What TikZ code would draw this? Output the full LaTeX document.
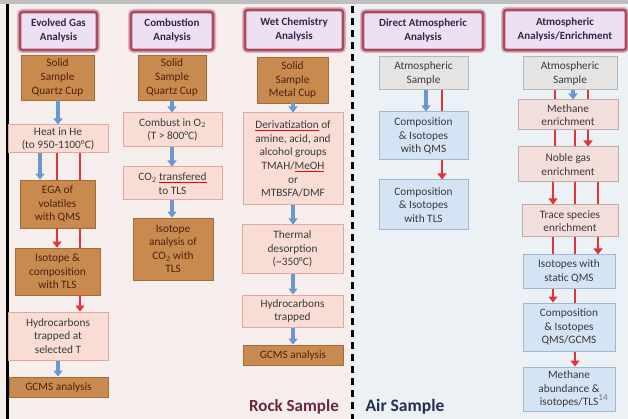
\documentclass[tikz,border=0pt]{standalone}
\usepackage{fontspec}
\setmainfont{Carlito}
\usetikzlibrary{arrows.meta}
\definecolor{bgl}{HTML}{F6EEED}
\definecolor{bgr}{HTML}{ECF1F5}
\definecolor{hdrfill}{HTML}{ECE0F2}
\definecolor{hdrdraw}{HTML}{A94A62}
\definecolor{hdrglow}{HTML}{DDB4BC}
\definecolor{hdrtxt}{HTML}{2E2A4A}
\definecolor{brfill}{HTML}{C88A4E}
\definecolor{brdraw}{HTML}{A56C38}
\definecolor{brtxt}{HTML}{4E220E}
\definecolor{pkfill}{HTML}{F9DDD5}
\definecolor{pkdraw}{HTML}{E0A8A1}
\definecolor{pgfill}{HTML}{F2DEDB}
\definecolor{pgdraw}{HTML}{C4ABAB}
\definecolor{blfill}{HTML}{D4E4F4}
\definecolor{bldraw}{HTML}{9EB8D2}
\definecolor{gyfill}{HTML}{E4E4E4}
\definecolor{gydraw}{HTML}{B5B5B5}
\definecolor{txt}{HTML}{3A3A3A}
\definecolor{arrblue}{HTML}{6B98CB}
\definecolor{arrred}{HTML}{E2323A}
\definecolor{rockc}{HTML}{6A2840}
\definecolor{airc}{HTML}{1F3050}
\newcommand\squig[1]{\textcolor{red}{\underline{\textcolor{txt}{#1}}}}
\newcommand\conn[4]{\draw[#1] (#2.south -| #4,0) -- (#3.north -| #4,0);}
\begin{document}
\begin{tikzpicture}[x=1pt,y=-1pt,
  every node/.style={align=center, inner sep=1pt, font=\fontsize{11.3}{13.6}\selectfont},
  hdr/.style={draw=hdrdraw, fill=hdrfill, line width=2.6pt, rounded corners=2.5pt,
    preaction={draw=hdrglow, line width=6pt, rounded corners=3pt},
    text=hdrtxt, font=\bfseries\fontsize{11}{14}\selectfont},
  brbox/.style={draw=brdraw, fill=brfill, line width=0.8pt, text=brtxt},
  pkbox/.style={draw=pkdraw, fill=pkfill, line width=1pt, text=txt},
  pgbox/.style={draw=pgdraw, fill=pgfill, line width=1pt, text=txt},
  blbox/.style={draw=bldraw, fill=blfill, line width=1pt, text=txt},
  gybox/.style={draw=gydraw, fill=gyfill, line width=1pt, text=txt},
  barr/.style={draw=arrblue, line width=3.5pt, -{Triangle[width=9pt,length=6pt]}},
  rarr/.style={draw=arrred, line width=2.5pt, -{Triangle[width=9pt,length=6pt]}},
  rline/.style={draw=arrred, line width=2.5pt},
  bsz/.style 2 args={minimum width=#1pt, minimum height=#2pt}
]
\useasboundingbox (0,0) rectangle (628,419);
% backgrounds
\fill[bgl] (0,0) rectangle (352,419);
\fill[bgr] (352,0) rectangle (628,419);
\fill[black!25] (0,0) rectangle (628,4);
\fill[black] (6,4) rectangle (9,419);
\draw[line width=3pt, dash pattern=on 7pt off 5pt] (352,6) -- (352,419);

% column 1
\node[hdr, bsz={77}{38}] (h1) at (58.5,31) {Evolved Gas\\Analysis};
\node[brbox, bsz={73}{45}] (s1) at (57.5,77.5) {Solid\\Sample\\Quartz Cup};
\node[pkbox, bsz={100}{28}] (heat) at (58,139) {Heat in He\\(to 950-1100°C)};
\node[brbox, bsz={75}{48}] (ega) at (57.5,204) {EGA of\\volatiles\\with QMS};
\node[brbox, bsz={85}{47}] (iso1) at (57.5,271.5) {Isotope \&\\composition\\with TLS};
\node[pkbox, bsz={100}{48}] (hyd1) at (58,336) {Hydrocarbons\\trapped at\\selected T};
\node[brbox, bsz={99}{20}] (gc1) at (58.5,387) {GCMS analysis};
\conn{barr}{s1}{heat}{58}
\conn{barr}{heat}{ega}{40}
\conn{rline}{heat}{ega}{57}
\conn{rline}{heat}{ega}{80}
\conn{rarr}{ega}{iso1}{57}
\conn{rline}{ega}{iso1}{80}
\conn{rarr}{iso1}{hyd1}{80}
\conn{barr}{hyd1}{gc1}{58}

% column 2
\node[hdr, bsz={82}{38}] (h2) at (172,31) {Combustion\\Analysis};
\node[brbox, bsz={68}{45}] (s2) at (172,77.5) {Solid\\Sample\\Quartz Cup};
\node[pkbox, bsz={99}{34}] (comb) at (172.5,130) {Combust in O$_2$\\(T > 800°C)};
\node[pkbox, bsz={99}{33}] (co2) at (172.5,183.5) {CO$_2$ \squig{transfered}\\to TLS};
\node[brbox, bsz={80}{62}] (iso2) at (173,249) {Isotope\\analysis of\\CO$_2$ with\\TLS};
\conn{barr}{s2}{comb}{172}
\conn{barr}{comb}{co2}{172}
\conn{barr}{co2}{iso2}{172}

% column 3
\node[hdr, bsz={98}{40}] (h3) at (294,30) {Wet Chemistry\\Analysis};
\node[brbox, bsz={71}{46}] (s3) at (292.5,80) {Solid\\Sample\\Metal Cup};
\node[pkbox, bsz={100}{92}] (der) at (293,159) {\squig{Derivatization} of\\amine, acid, and\\alcohol groups\\TMAH/\squig{MeOH}\\or\\MTBSFA/DMF};
\node[pkbox, bsz={101}{48}] (therm) at (292.5,249) {Thermal\\desorption\\(\textasciitilde350°C)};
\node[pkbox, bsz={101}{32}] (hyd3) at (292.5,311) {Hydrocarbons\\trapped};
\node[brbox, bsz={100}{20}] (gc3) at (293,355) {GCMS analysis};
\conn{barr}{s3}{der}{293}
\conn{barr}{der}{therm}{293}
\conn{barr}{therm}{hyd3}{293}
\conn{barr}{hyd3}{gc3}{293}
\node[text=rockc, font=\bfseries\fontsize{17}{17}\selectfont] (rock) at (294,407) {Rock Sample};

% column 4
\node[hdr, bsz={120}{38}] (h4) at (423,31) {Direct Atmospheric\\Analysis};
\node[gybox, bsz={89}{33}] (a4) at (423.5,73.5) {Atmospheric\\Sample};
\node[blbox, bsz={89}{48}] (c4a) at (423.5,136) {Composition\\\& Isotopes\\with QMS};
\node[blbox, bsz={89}{50}] (c4b) at (423.5,205) {Composition\\\& Isotopes\\with TLS};
\conn{barr}{a4}{c4a}{426}
\conn{rline}{a4}{c4a}{442}
\conn{rarr}{c4a}{c4b}{442}
\node[text=airc, font=\bfseries\fontsize{17.5}{17.5}\selectfont] (air) at (405,407) {Air Sample};

% column 5
\node[hdr, bsz={122}{40}] (h5) at (565,30) {Atmospheric\\Analysis/Enrichment};
\node[gybox, bsz={94}{33}] (a5) at (570,73.5) {Atmospheric\\Sample};
\node[pgbox, bsz={100}{30}] (me) at (568,115) {Methane\\enrichment};
\node[pgbox, bsz={100}{35}] (ng) at (568,164.5) {Noble gas\\enrichment};
\node[pgbox, bsz={96}{32}] (tr) at (570,221) {Trace species\\enrichment};
\node[blbox, bsz={92}{33}] (isq) at (569,271.5) {Isotopes with\\static QMS};
\node[blbox, bsz={92}{48}] (cq) at (569,327) {Composition\\\& Isotopes\\QMS/GCMS};
\node[blbox, bsz={92}{44}] (mt) at (569,389) {Methane\\abundance \&\\isotopes/TLS};
\node[text=black!55, font=\fontsize{9}{9}\selectfont] (pg) at (603,398) {14};
\conn{rline}{a5}{me}{555}
\conn{barr}{a5}{me}{573}
\conn{rline}{a5}{me}{588}
\conn{rline}{me}{ng}{555}
\conn{rline}{me}{ng}{575}
\conn{rarr}{me}{ng}{588}
\conn{rarr}{ng}{tr}{553}
\conn{rline}{ng}{tr}{575}
\conn{rline}{ng}{tr}{598}
\conn{rline}{tr}{isq}{553}
\conn{rline}{tr}{isq}{575}
\conn{rarr}{tr}{isq}{598}
\conn{rarr}{isq}{cq}{553}
\conn{rline}{isq}{cq}{575}
\conn{rarr}{cq}{mt}{575}
\end{tikzpicture}
\end{document}
